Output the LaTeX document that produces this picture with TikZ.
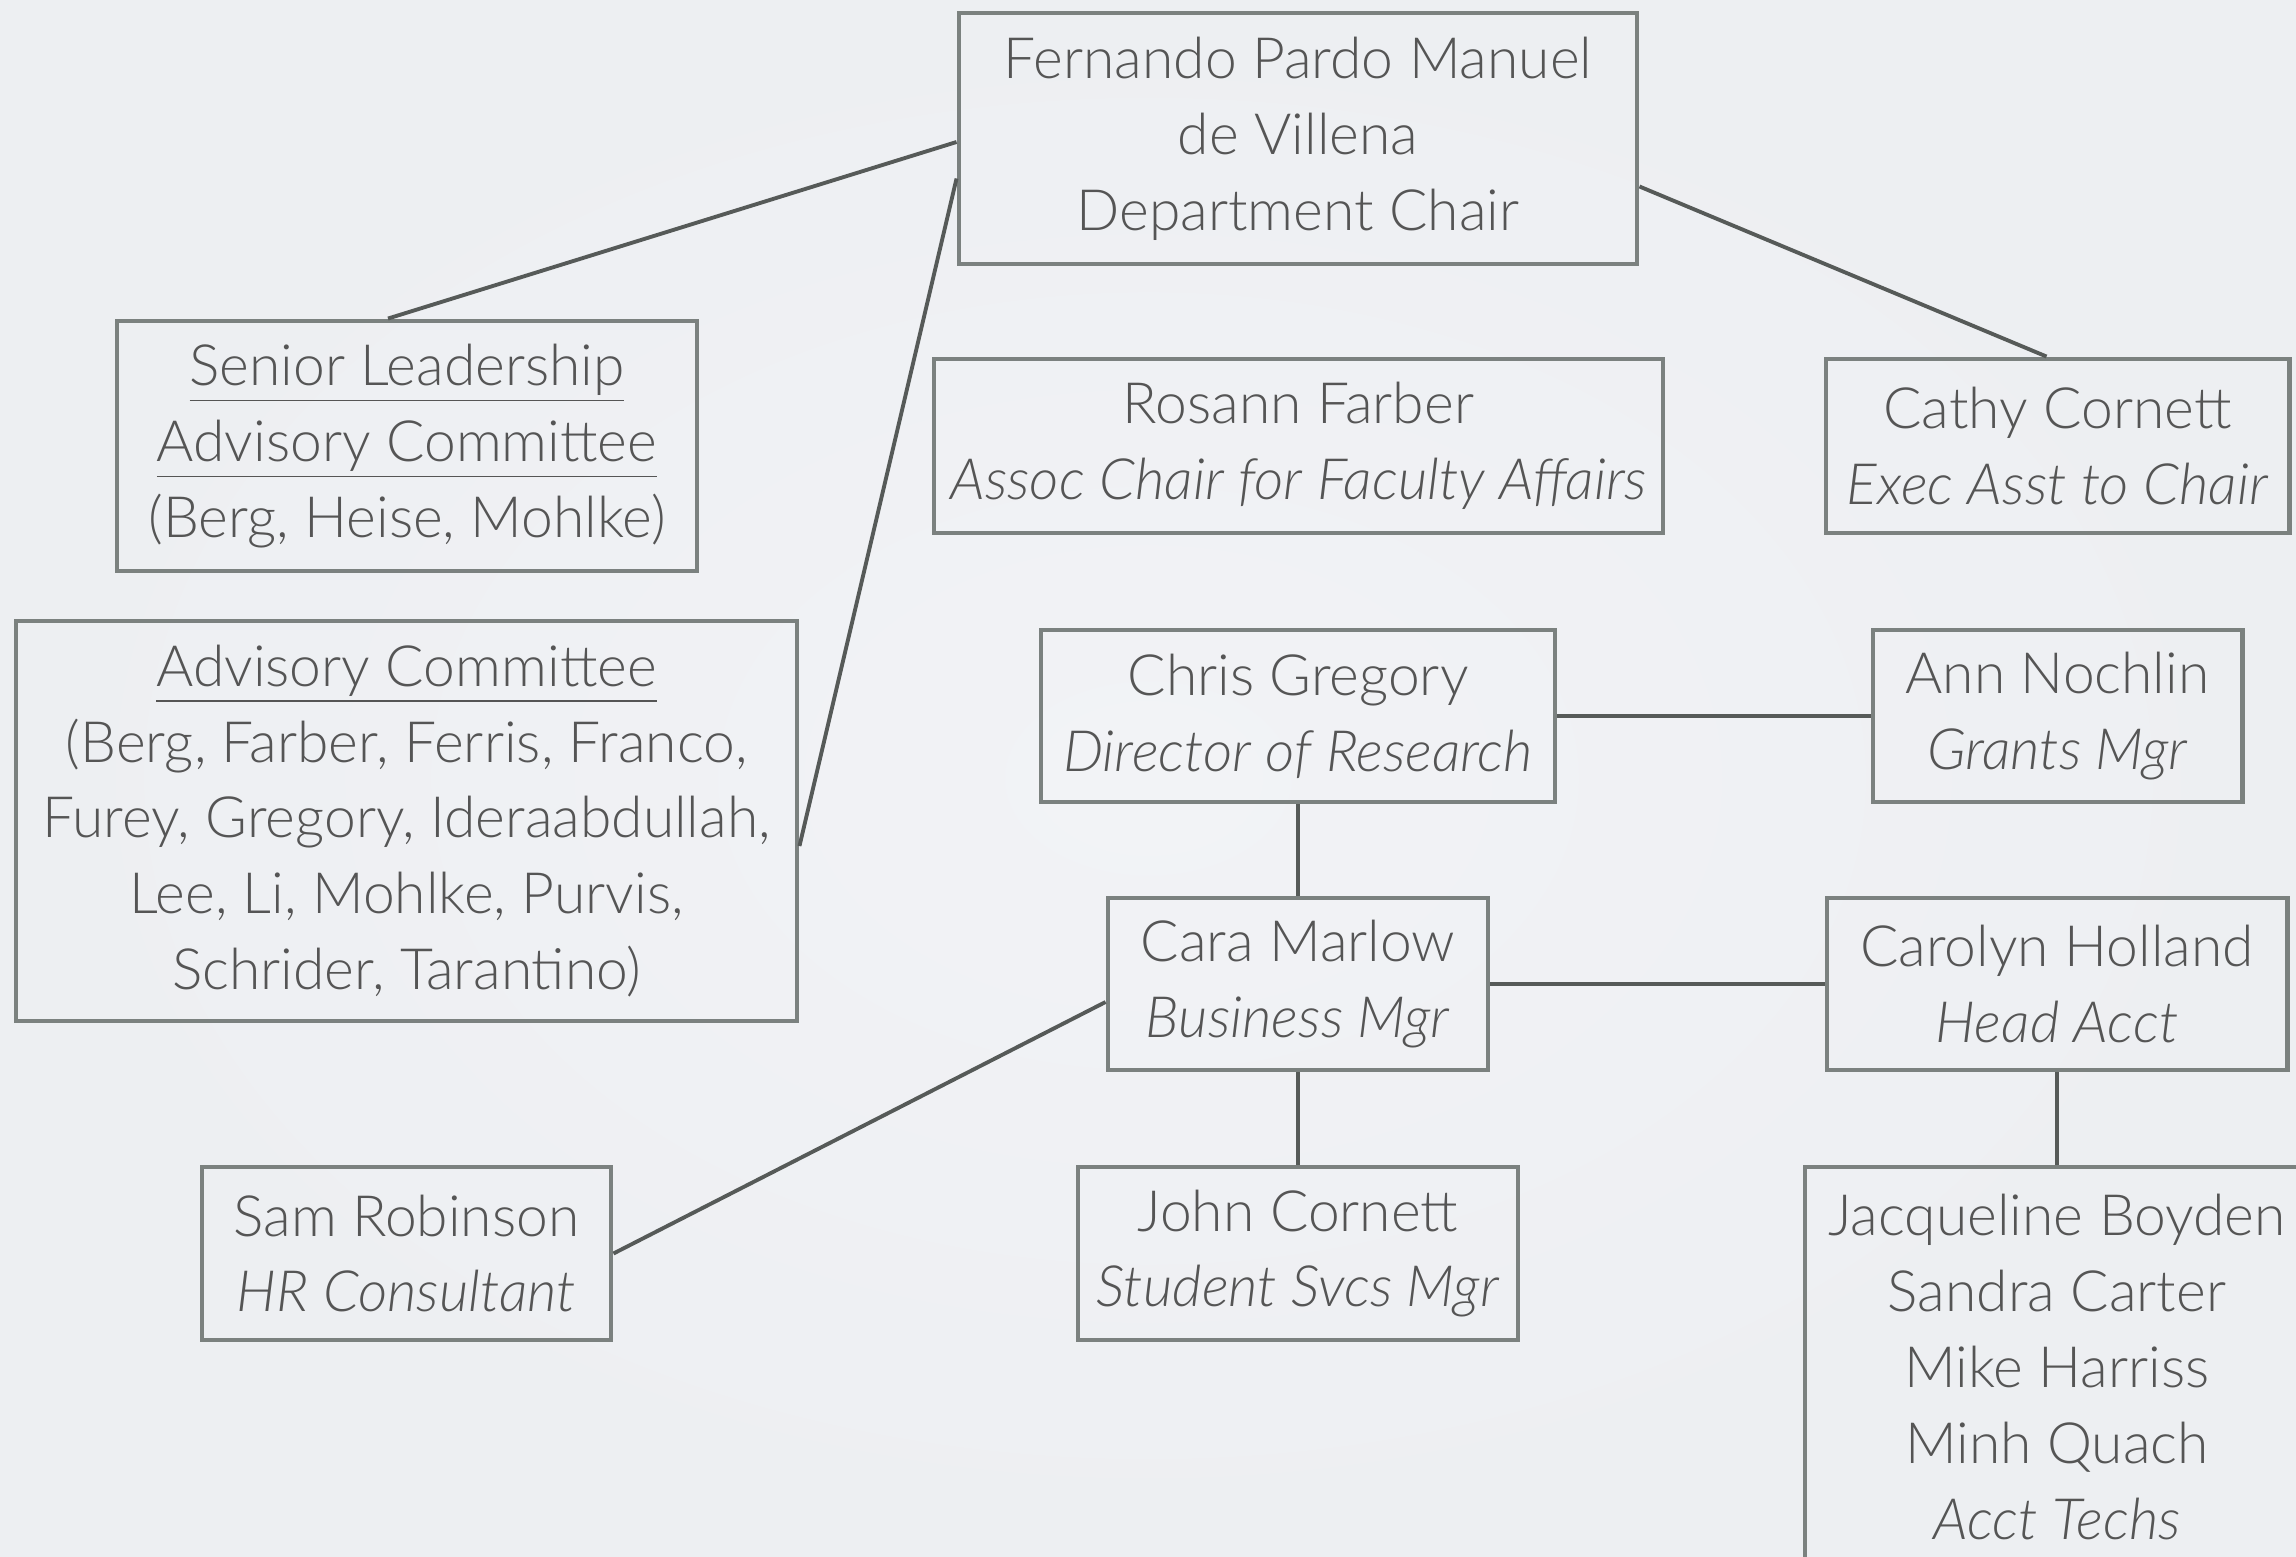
\documentclass[tikz,border=0pt]{standalone}
\usepackage{fontspec}
\setmainfont{Lato}[UprightFont=* Light, ItalicFont=* Light Italic]
\usepackage{tikz}
\usetikzlibrary{positioning, calc}

\definecolor{bgcol}{HTML}{EDEFF2}
\definecolor{bgmid}{HTML}{F2F3F6}
\definecolor{boxcol}{HTML}{7B817F}
\definecolor{linecol}{HTML}{565A58}
\definecolor{txtcol}{HTML}{555555}

\begin{document}
\begin{tikzpicture}[
  every node/.style={align=center, font=\fontsize{16.2}{21.6}\selectfont, text=txtcol},
  box/.style={rectangle, draw=boxcol, line width=1.4pt, inner sep=0pt},
  link/.style={draw=linecol, line width=1.1pt}
]

% Background
\shade[inner color=bgmid, outer color=bgcol] (0,0) rectangle (22.96,-15.56);
\useasboundingbox (0,0) rectangle (22.96,-15.56);
\clip (0,0) rectangle (22.96,-15.56);

% Chair
\node[box, minimum width=6.78cm, minimum height=2.51cm] (chair) at (12.98,-1.385) {Fernando Pardo Manuel\\de Villena\\Department Chair};

% Committees
\node[box, minimum width=5.80cm, minimum height=2.50cm] (senior) at (4.07,-4.46) {\underline{Senior Leadership}\\\underline{Advisory Committee}\\(Berg, Heise, Mohlke)};
\node[box, minimum width=7.81cm, minimum height=4.00cm] (advisory) at (4.065,-8.21) {\underline{Advisory Committee}\\(Berg, Farber, Ferris, Franco,\\Furey, Gregory, Ideraabdullah,\\Lee, Li, Mohlke, Purvis,\\Schrider, Tarantino)};

% Second row
\node[box, minimum width=7.29cm, minimum height=1.74cm] (rosann) at (12.985,-4.46) {Rosann Farber\\\textit{Assoc Chair for Faculty Affairs}};
\node[box, minimum width=4.63cm, minimum height=1.74cm] (cathy) at (20.575,-4.46) {Cathy Cornett\\\textit{Exec Asst to Chair}};

% Research
\node[box, minimum width=5.14cm, minimum height=1.72cm] (chris) at (12.98,-7.16) {Chris Gregory\\\textit{Director of Research}};
\node[box, minimum width=3.69cm, minimum height=1.72cm] (ann) at (20.575,-7.16) {Ann Nochlin\\\textit{Grants Mgr}};

% Business
\node[box, minimum width=3.80cm, minimum height=1.72cm] (cara) at (12.98,-9.84) {Cara Marlow\\\textit{Business Mgr}};
\node[box, minimum width=4.60cm, minimum height=1.72cm] (carolyn) at (20.57,-9.84) {Carolyn Holland\\\textit{Head Acct}};

% Bottom row
\node[box, minimum width=4.09cm, minimum height=1.73cm] (sam) at (4.065,-12.535) {Sam Robinson\\\textit{HR Consultant}};
\node[box, minimum width=4.40cm, minimum height=1.73cm] (john) at (12.98,-12.535) {John Cornett\\\textit{Student Svcs Mgr}};
\node[box, minimum width=5.04cm, minimum height=4.00cm] (techs) at (20.57,-13.67) {Jacqueline Boyden\\Sandra Carter\\Mike Harriss\\Minh Quach\\\textit{Acct Techs}};

% Links
\draw[link] ([yshift=-0.35mm]chair.west) -- ([xshift=-1.9mm]senior.north);
\draw[link] ([yshift=-4mm]chair.west) -- ([yshift=-2.5mm]advisory.east);
\draw[link] ([yshift=-4.8mm]chair.east) -- ([xshift=-1.1mm]cathy.north);
\draw[link] (chris.east) -- (ann.west);
\draw[link] (chris.south) -- (cara.north);
\draw[link] (cara.east) -- (cara.east -| carolyn.west);
\draw[link] ([yshift=-1.8mm]cara.west) -- (sam.east);
\draw[link] (cara.south) -- (john.north);
\draw[link] (carolyn.south) -- (techs.north);

\end{tikzpicture}
\end{document}
